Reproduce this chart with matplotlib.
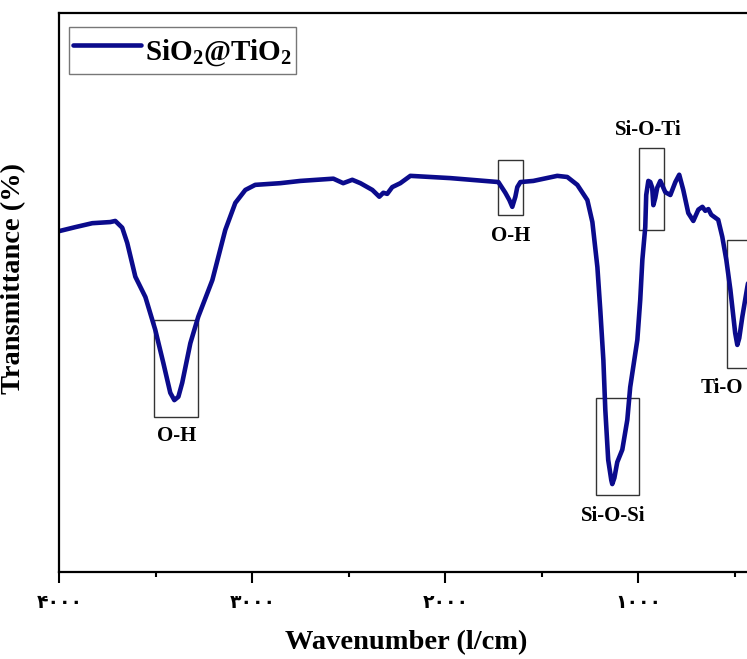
import matplotlib
matplotlib.use("Agg")
import matplotlib.pyplot as plt
from matplotlib.patches import Rectangle

plt.rcParams['font.family'] = ['Liberation Serif', 'DejaVu Sans']
plt.rcParams['font.weight'] = 'bold'
plt.rcParams['mathtext.fontset'] = 'custom'
plt.rcParams['mathtext.rm'] = 'Liberation Serif:bold'
plt.rcParams['mathtext.it'] = 'Liberation Serif:bold'
plt.rcParams['mathtext.bf'] = 'Liberation Serif:bold'

# ---- data ----
wavenumber = [4000, 3917, 3829, 3736, 3710, 3674, 3648, 3606, 3554, 3503, 3461, 3425,
              3404, 3383, 3363, 3321, 3280, 3207, 3140, 3088, 3036, 2985, 2855, 2751,
              2580, 2529, 2482, 2440, 2378, 2342, 2321, 2301, 2275, 2233, 2181, 1974,
              1725, 1689, 1668, 1653, 1637, 1627, 1611, 1544, 1420, 1368, 1316, 1264,
              1238, 1212, 1197, 1181, 1171, 1156, 1140, 1135, 1124, 1109, 1083, 1057,
              1042, 1005, 990, 979, 964, 959, 948, 938, 928, 922, 912, 902, 886, 860,
              834, 808, 788, 767, 741, 715, 689, 668, 653, 637, 622, 606, 586, 565,
              544, 523, 498, 487, 477, 461, 435, 409]
transmittance = [61.2, 61.9, 62.6, 62.8, 63.0, 61.8, 59.1, 53.1, 49.5, 43.7, 37.8, 32.5,
                 31.2, 31.8, 34.3, 41.3, 46.0, 52.5, 61.4, 66.2, 68.5, 69.4, 69.7, 70.1,
                 70.5, 69.7, 70.3, 69.7, 68.5, 67.3, 68.0, 67.8, 69.0, 69.7, 71.0, 70.6,
                 69.9, 68.0, 66.7, 65.5, 67.3, 69.0, 69.9, 70.1, 71.0, 70.8, 69.4, 66.7,
                 62.8, 54.8, 47.2, 38.3, 29.5, 20.6, 17.0, 16.3, 17.4, 20.2, 22.4, 27.7,
                 33.5, 41.9, 49.0, 56.1, 61.9, 67.6, 70.1, 69.9, 68.9, 65.8, 67.1, 68.9,
                 70.1, 68.1, 67.6, 69.9, 71.2, 68.5, 64.4, 63.0, 65.0, 65.5, 64.8, 65.1,
                 64.1, 63.7, 63.2, 60.2, 56.1, 50.8, 43.1, 41.0, 42.2, 46.0, 51.3, 56.1]

series_label = "SiO$_2$@TiO$_2$"

# band annotations: label, box (wn_left, wn_right, T_low, T_high), label position (wn, T)
band_labels = ["O-H", "O-H", "Si-O-Si", "Si-O-Ti", "Ti-O"]
band_boxes = [(3508, 3280, 28.2, 45.4),
              (1725, 1596, 64.1, 73.8),
              (1218, 995, 14.4, 31.6),
              (995, 865, 61.4, 76.0),
              (539, 410, 36.9, 59.6)]
label_pos = [(3394, 24.8), (1663, 60.3), (1130, 10.6), (948, 79.2), (565, 33.3)]

major_ticks = [4000, 3000, 2000, 1000]
major_tick_labels = ["۴۰۰۰", "۳۰۰۰", "۲۰۰۰", "۱۰۰۰"]
minor_ticks = [3500, 2500, 1500, 500]

# ---- figure ----
W, H = 747, 659
fig = plt.figure(figsize=(W / 100, H / 100), dpi=100)
left_px, right_px, top_px, bot_px = 59.3, 59.3 + 3600 / 5.1813, 13, 572
ax = fig.add_axes([left_px / W, (H - bot_px) / H, (right_px - left_px) / W, (bot_px - top_px) / H])

line_color = '#0b0b8c'
ax.plot(wavenumber, transmittance, color=line_color, lw=3.3, solid_joinstyle='round',
        solid_capstyle='round', label=series_label)

ax.set_xlim(4000, 400)
ax.set_ylim(0.7, 99.9)

for (x0, x1, y0, y1) in band_boxes:
    ax.add_patch(Rectangle((x1, y0), x0 - x1, y1 - y0, fill=False, ec='#333333', lw=1.0))
for lab, (xp, yp) in zip(band_labels, label_pos):
    ax.text(xp, yp, lab, ha='center', va='center', fontsize=15, fontweight='bold',
            family='Liberation Serif')

ax.set_xticks(major_ticks)
ax.set_xticklabels(major_tick_labels, fontsize=13.5, fontweight='bold', family='DejaVu Sans')
ax.set_xticks(minor_ticks, minor=True)
ax.tick_params(axis='x', which='major', direction='out', length=8, width=1.5, pad=7)
ax.tick_params(axis='x', which='minor', direction='out', length=3.8, width=1.5)
ax.set_yticks([])

for side in ['left', 'bottom', 'top']:
    ax.spines[side].set_linewidth(1.6)
ax.spines['right'].set_visible(False)

fig.text(406 / W, 1 - 643 / H, "Wavenumber (l/cm)", ha='center', va='center',
         fontsize=20.5, fontweight='bold', family='Liberation Serif')
fig.text(14 / W, 1 - 278 / H, "Transmittance (%)", ha='center', va='center', rotation=90,
         fontsize=20.5, fontweight='bold', family='Liberation Serif')

leg = ax.legend(loc='upper left', bbox_to_anchor=(69 / W, 1 - 27 / H), bbox_transform=fig.transFigure,
                borderaxespad=0, frameon=True, fancybox=False, handlelength=2.35,
                handleheight=1.75, handletextpad=0.15, borderpad=0.12,
                prop={'family': 'Liberation Serif', 'weight': 'bold', 'size': 21})
leg.get_frame().set_edgecolor('#555555')
leg.get_frame().set_linewidth(1.0)

fig.savefig("out.png", dpi=100)
